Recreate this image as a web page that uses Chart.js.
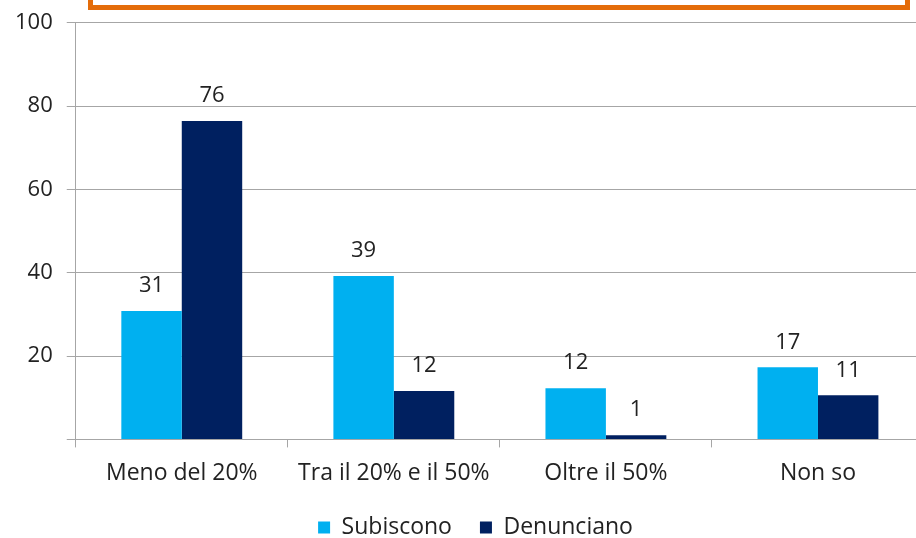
<!DOCTYPE html>
<html>
<head>
<meta charset="utf-8">
<script src="https://cdn.jsdelivr.net/npm/chart.js@4"></script>
<style>
  html, body { margin: 0; padding: 0; background: #fff; overflow: hidden; }
  body { width: 916px; height: 538px; position: relative; }
  #wrap { position: absolute; left: 0; top: 0; width: 930px; height: 568px; }
  canvas { display: block; }
  #box { position: absolute; left: 88px; top: -24px; width: 812px; height: 24px; border: 5px solid #e46c0a; }
</style>
</head>
<body>
<div id="wrap"><canvas id="grafik" width="930" height="568"></canvas></div>
<div id="box"></div>
<script>
const categorie = ["Meno del 20%", "Tra il 20% e il 50%", "Oltre il 50%", "Non so"];
const subiscono = [30.8, 39.2, 12.3, 17.3];
const denunciano = [76.4, 11.6, 1.0, 10.6];
const yTicks = [0, 20, 40, 60, 80, 100];

const FONT = "Open Sans";

// etichette sopra le barre
const etichette = {
  id: "etichette",
  afterDatasetsDraw(chart) {
    const ctx = chart.ctx;
    ctx.save();
    ctx.font = "22px '" + FONT + "'";
    ctx.fillStyle = "#222";
    ctx.textAlign = "center";
    ctx.textBaseline = "bottom";
    chart.data.datasets.forEach((ds, i) => {
      chart.getDatasetMeta(i).data.forEach((bar, j) => {
        ctx.fillText(Math.round(ds.data[j]), bar.x, bar.y - 14);
      });
    });
    ctx.restore();
  }
};

// la legenda nell'originale e' un po' spostata a destra e piu' in alto
const spostaLegenda = {
  id: "spostaLegenda",
  afterLayout(chart) {
    const lg = chart.legend;
    lg.left += 13;
    lg.right += 13;
    lg.top -= 19;
    lg.bottom -= 19;
  }
};

new Chart(document.getElementById("grafik"), {
  type: "bar",
  data: {
    labels: categorie,
    datasets: [
      { label: "Subiscono", data: subiscono, backgroundColor: "#00b0f0" },
      { label: "Denunciano", data: denunciano, backgroundColor: "#002060" }
    ]
  },
  options: {
    responsive: false,
    animation: false,
    devicePixelRatio: 1,
    layout: { padding: { top: 7, left: 1, right: 6, bottom: 0 } },
    datasets: { bar: { categoryPercentage: 0.57, barPercentage: 1 } },
    plugins: {
      tooltip: { enabled: false },
      legend: {
        position: "bottom",
        labels: {
          color: "#222",
          font: { family: FONT, size: 23 },
          boxWidth: 12,
          boxHeight: 12,
          padding: 28
        }
      }
    },
    scales: {
      x: {
        afterFit(axis) { axis.height += 8; },
        grid: { drawOnChartArea: false, offset: true, tickLength: 8, color: "#a6a6a6" },
        border: { color: "#a6a6a6" },
        ticks: { color: "#222", font: { family: FONT, size: 23 }, padding: 12 }
      },
      y: {
        min: 0,
        max: 100,
        afterBuildTicks(axis) { axis.ticks = yTicks.map(v => ({ value: v })); },
        grid: { color: "#a6a6a6", tickLength: 9 },
        border: { color: "#a6a6a6" },
        ticks: {
          color: "#222",
          font: { family: FONT, size: 22, lineHeight: 0.8 },
          padding: 14,
          callback: v => (v === 0 ? "" : v)
        }
      }
    }
  },
  plugins: [etichette, spostaLegenda]
});
</script>
</body>
</html>
